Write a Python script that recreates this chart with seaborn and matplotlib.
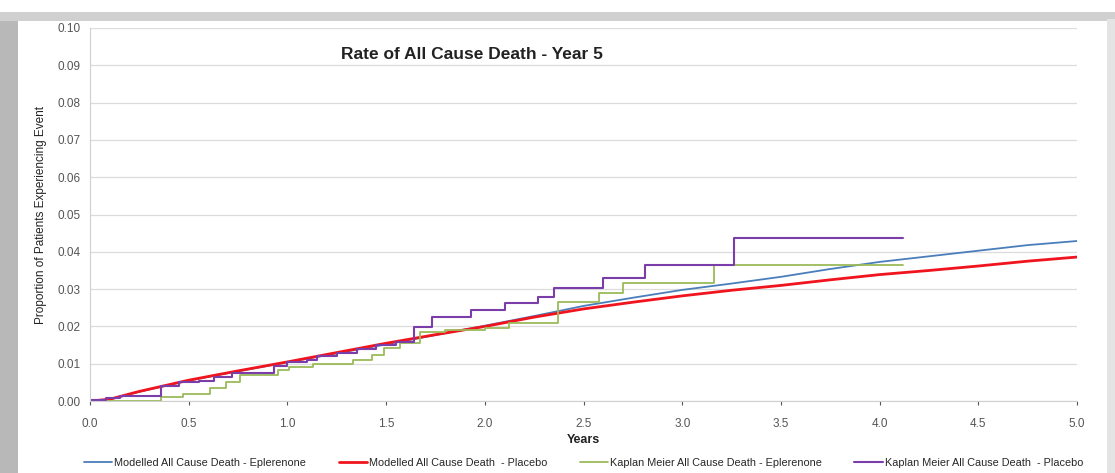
import numpy as np
import pandas as pd
import matplotlib
matplotlib.use("Agg")
import matplotlib.pyplot as plt
from matplotlib.patches import Rectangle
import seaborn as sns

# modelled curves (years, proportion)
mod_years = [0.0, 0.1, 0.25, 0.5, 0.75, 1.0, 1.25, 1.5, 1.75, 2.0, 2.25, 2.5,
             2.75, 3.0, 3.25, 3.5, 3.75, 4.0, 4.25, 4.5, 4.75, 5.0]
mod_eple = [0.0, 0.0005, 0.0025, 0.0055, 0.008, 0.0104, 0.0128, 0.0152, 0.0177, 0.0202, 0.0228, 0.0255,
            0.0277, 0.0298, 0.0315, 0.0333, 0.0354, 0.0373, 0.0388, 0.0403, 0.0418, 0.0429]
mod_plac = [0.0, 0.0005, 0.0026, 0.0056, 0.0081, 0.0105, 0.013, 0.0155, 0.0178, 0.0200, 0.0225, 0.0247,
            0.0265, 0.0282, 0.0297, 0.0310, 0.0325, 0.0339, 0.0350, 0.0362, 0.0375, 0.0386]

# Kaplan Meier step curves
km_eple_t = [0.0, 0.36, 0.47, 0.61, 0.69, 0.76, 0.95, 1.01, 1.13, 1.33, 1.43, 1.49, 1.57,
             1.67, 1.80, 2.0, 2.12, 2.37, 2.58, 2.70, 3.16, 4.12]
km_eple_v = [0.0, 0.001, 0.002, 0.0035, 0.005, 0.0069, 0.0083, 0.0092, 0.0099, 0.011, 0.0123, 0.0142, 0.0155,
             0.0185, 0.019, 0.0196, 0.021, 0.0265, 0.029, 0.0316, 0.0365, 0.0365]
km_plac_t = [0.0, 0.08, 0.15, 0.36, 0.45, 0.55, 0.63, 0.72, 0.93, 1.0, 1.1, 1.15, 1.25, 1.35, 1.45,
             1.55, 1.64, 1.73, 1.93, 2.10, 2.27, 2.35, 2.60, 2.81, 3.26, 4.12]
km_plac_v = [0.0003, 0.0008, 0.0015, 0.004, 0.005, 0.0055, 0.0065, 0.0075, 0.0095, 0.0105, 0.011, 0.012, 0.013,
             0.014, 0.015, 0.0158, 0.0198, 0.0225, 0.0244, 0.0262, 0.0279, 0.0303, 0.033, 0.0365, 0.0437, 0.0437]

labels = ["Modelled All Cause Death - Eplerenone", "Modelled All Cause Death  - Placebo",
          "Kaplan Meier All Cause Death - Eplerenone", "Kaplan Meier All Cause Death  - Placebo"]
colors = ["#4A7EBB", "#F0141E", "#9BBB59", "#7A3DAA"]

sns.set_style("white")
plt.rcParams["font.family"] = ["Liberation Sans", "DejaVu Sans"]

fig = plt.figure(figsize=(11.15, 4.73), dpi=100)
# outer frame with grey shadow
fig.patches.append(Rectangle((0.0, 0.0), 0.016, 0.975, transform=fig.transFigure,
                             facecolor="#b8b8b8", edgecolor="none", zorder=0))
fig.patches.append(Rectangle((0.0, 0.955), 1.0, 0.02, transform=fig.transFigure,
                             facecolor="#d0d0d0", edgecolor="none", zorder=0))
fig.patches.append(Rectangle((0.993, 0.0), 0.007, 0.96, transform=fig.transFigure,
                             facecolor="#e4e4e4", edgecolor="none", zorder=0))

ax = fig.add_axes([0.0807, 0.152, 0.8853, 0.789])

sns.lineplot(x=mod_years, y=mod_eple, ax=ax, color=colors[0], lw=1.3, label=labels[0])
sns.lineplot(x=mod_years, y=mod_plac, ax=ax, color=colors[1], lw=2.0, label=labels[1])
sns.lineplot(x=km_eple_t, y=km_eple_v, ax=ax, color=colors[2], lw=1.3, label=labels[2],
             drawstyle="steps-post")
sns.lineplot(x=km_plac_t, y=km_plac_v, ax=ax, color=colors[3], lw=1.5, label=labels[3],
             drawstyle="steps-post")

ax.set_xlim(0, 5.0)
ax.set_ylim(0, 0.10)
ax.set_xticks(np.arange(0, 5.01, 0.5))
ax.set_yticks(np.arange(0, 0.1001, 0.01))
ax.set_xticklabels([f"{v:.1f}" for v in np.arange(0, 5.01, 0.5)])
ax.set_yticklabels([f"{v:.2f}" for v in np.arange(0, 0.1001, 0.01)])
ax.grid(axis="y", color="#dcdcdc", lw=0.9)
ax.tick_params(axis="both", labelsize=8.5, colors="#555555", length=3, width=0.8)
ax.tick_params(axis="x", pad=9, bottom=True)
for s in ["top", "right"]:
    ax.spines[s].set_visible(False)
for s in ["left", "bottom"]:
    ax.spines[s].set_color("#cfcfcf")

ax.set_xlabel("Years", fontsize=9, fontweight="bold", color="#222222", labelpad=3)
ax.set_ylabel("Proportion of Patients Experiencing Event", fontsize=8.5, color="#222222", labelpad=8)
ax.text(0.387, 0.93, "Rate of All Cause Death - Year 5", transform=ax.transAxes,
        fontsize=12.5, fontweight="bold", color="#222222", ha="center", va="center")

ax.legend(loc="center", bbox_to_anchor=(0.5, -0.166), ncol=4, frameon=False,
          fontsize=7.8, handlelength=2.6, columnspacing=3.0, handletextpad=0.2)

fig.savefig("out.png", dpi=100, facecolor="white")
